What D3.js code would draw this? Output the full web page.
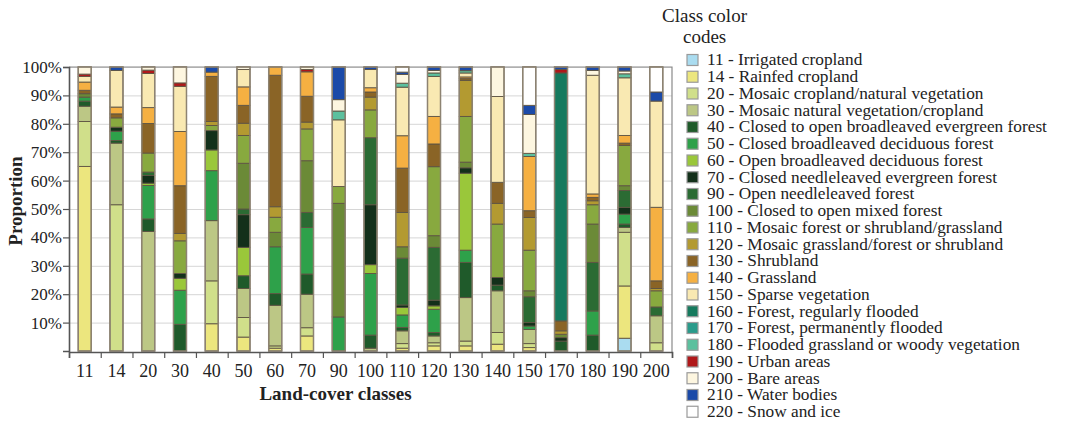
<!DOCTYPE html>
<html>
<head>
<meta charset="utf-8">
<script src="https://cdn.jsdelivr.net/npm/d3@7"></script>
<style>
  body { margin: 0; background: #fff; }
</style>
</head>
<body>
<svg id="chart" width="1070" height="422"></svg>
<script>
"use strict";

// Bars, left to right (labels as printed under the axis).
const barLabels = ["11", "14", "20", "30", "40", "50", "60", "70", "90", "100",
                   "110", "120", "130", "140", "150", "170", "180", "190", "200"];

// Legend classes, bottom-to-top stacking order.
const classCodes = [11, 14, 20, 30, 40, 50, 60, 70, 90, 100, 110, 120, 130, 140,
                    150, 160, 170, 180, 190, 200, 210, 220];
const classNames = [
    "Irrigated cropland", "Rainfed cropland", "Mosaic cropland/natural vegetation",
    "Mosaic natural vegetation/cropland", "Closed to open broadleaved evergreen forest",
    "Closed broadleaved deciduous forest", "Open broadleaved deciduous forest",
    "Closed needleleaved evergreen forest", "Open needleleaved forest",
    "Closed to open mixed forest", "Mosaic forest or shrubland/grassland",
    "Mosaic grassland/forest or shrubland", "Shrubland", "Grassland",
    "Sparse vegetation", "Forest, regularly flooded", "Forest, permanently flooded",
    "Flooded grassland or woody vegetation", "Urban areas", "Bare areas",
    "Water bodies", "Snow and ice"
];
const classColors = [
    "#aadcf0", "#ece67e", "#d0df8a", "#bcc785", "#1f5a2a", "#2ea14a", "#9ac73a",
    "#13301a", "#2b6b33", "#6b8a37", "#88a93f", "#b39a31", "#8a6426", "#f5b042",
    "#f9e9b2", "#167a5e", "#2a9b8b", "#5cc09e", "#b0181a", "#fdf6e0", "#1b4aa8",
    "#ffffff"
];

// Proportion (%) of each class per bar; columns follow classCodes.
//            11   14    20    30    40    50    60    70    90   100   110   120   130   140   150   160 170  180  190  200   210   220
const shares = [
    [0,   65.0, 15.8,  5.4,  1.8,  1.4,  0,    0,    0,    1.2,  0,    0,    1.2,  2.9,  2.0,  0,   0, 0,   0.8, 2.5,  0,    0],
    [0,   0,    51.5, 21.7,  0.9,  3.3,  0,    1.4,  0,    0,    3.3,  0,    1.4,  2.4, 12.9,  0,   0, 0,   0,   0,    1.2,  0],
    [0,   0,    0,    42.1,  4.4, 11.8,  0.8,  2.7,  1.2,  0,    6.7,  0,   10.4,  5.6, 12.0,  0,   0, 0,   1.2, 1.1,  0,    0],
    [0,   0,    0,    0,     9.4, 12.0,  4.2,  1.7,  0,    0,   11.5,  2.6, 16.8, 19.1, 15.9,  0,   0, 0,   1.2, 5.6,  0,    0],
    [0,   9.6, 15.1, 21.2,  0,   17.6,  7.3,  6.8,  0,    0,    1.8,  1.4, 15.9,  1.5,  0,    0,   0, 0,   0,   0,    1.8,  0],
    [0,   4.9,  6.9, 10.2,  4.5,  0,   10.0, 11.5,  2.0, 16.1,  9.8,  4.3,  6.3,  6.5,  6.1,  0,   0, 0,   0,   0.9,  0,    0],
    [0,   1.0,  0.8, 14.3,  4.1, 16.5,  0,    0,    0,    5.1,  5.3,  3.7, 46.3,  2.9,  0,    0,   0, 0,   0,   0,    0,    0],
    [0,   5.3,  2.9, 11.8,  7.1, 16.4,  0,    0,    5.3, 18.2, 11.2,  2.4,  9.1,  8.6,  0,    0,   0, 0,   0.8, 0.9,  0,    0],
    [0,   0,    0,    0,     0,   12.0,  0,    0,    0,   40.0,  5.9,  0,    0,    0,   23.5,  0,   0, 3.1, 0,   4.0, 11.5,  0],
    [0,   0,    0,    1.0,  4.6, 21.7,  3.1, 21.1, 23.6,  0,    9.8,  4.5,  1.8,  1.5,  6.4,  0,   0, 0,   0,   0,    0.9,  0],
    [0,   1.0,  1.6,  4.5,  1.2,  4.4,  2.6,  0.9, 16.5,  4.0,  0,   12.1, 15.6, 11.4, 17.1,  0,   0, 1.4, 0,   3.1,  0.8,  1.8],
    [0,   1.8,  1.1,  2.4,  1.2,  8.2,  1.2,  2.0, 18.6,  4.1, 24.3,  0,    8.0,  9.7, 14.1,  0,   0, 1.2, 0,   0.9,  1.2,  0],
    [0,   1.8,  1.7, 15.3, 12.4,  4.3, 27.1,  1.9,  0,    2.0, 16.1, 12.7,  0.6,  0.6,  1.4,  0,   0, 0.8, 0,   0,    1.3,  0],
    [0,   2.4,  4.1, 14.7,  2.0,  0,    0,    2.7,  0,    0,   18.8,  7.3,  7.4,  0,   30.2,  0,   0, 0,   0,  10.4,  0,    0],
    [0,   1.2,  1.4,  5.0,  0,    1.2,  0,    1.2,  9.1,  2.1, 14.3, 11.5,  2.4, 19.1,  0,    0,   0, 1.1, 0,  13.7,  3.2, 13.5],
    [0,   0,    0,    0,     3.5,  0,    0,    1.2,  0,    1.2,  0,    1.2,  3.5,  0,    0,   87.3, 0, 0,   1.2, 0,    0.9,  0],
    [0,   0,    0,    0,     5.6,  8.5,  0,    0,   17.1, 13.5,  6.8,  1.4,  1.2,  1.2, 41.8,  0,   0, 0,   0,   1.7,  1.2,  0],
    [4.5, 18.4, 18.9,  1.7,  1.2,  3.5,  0,    2.4,  5.9,  1.7, 14.2,  0,    0.8,  2.7, 20.3,  0,   0, 1.4, 0,   1.0,  1.4,  0],
    [0,   0,    2.9,  9.5,  0,    0,    0,    0,    3.1,  0,    5.7,  0.8,  2.7, 25.9, 37.4,  0,   0, 0,   0,   0,    3.2,  8.8]
];

const yTicks = [10, 20, 30, 40, 50, 60, 70, 80, 90, 100];

const FONT = "'Liberation Serif', 'DejaVu Serif', serif";
const svg = d3.select("#chart").attr("font-family", FONT);
const plot = {left: 69, right: 672, top: 67, bottom: 351};

let x = d3.scaleBand().domain(barLabels)
    .range([plot.left, plot.right])
    .paddingInner(0.59).paddingOuter(0.29);
let xEdges = d3.scaleLinear().domain([0, barLabels.length])
    .range([plot.left, plot.right]);
let y = d3.scaleLinear().domain([0, 100]).range([plot.bottom, plot.top]);

// Horizontal grid lines.
svg.append("g")
    .attr("transform", `translate(${plot.left},0)`)
    .call(d3.axisLeft(y).tickValues(yTicks).tickSize(-(plot.right - plot.left)).tickFormat(""))
    .call(g => g.select(".domain").remove())
    .call(g => g.selectAll("line").attr("stroke", "#d6d6d6").attr("stroke-width", 1));

// Plot frame (top and right sides).
svg.append("path")
    .attr("d", `M${plot.left},${plot.top}H${plot.right}V${plot.bottom + 1}`)
    .attr("fill", "none").attr("stroke", "#8a8a8a").attr("stroke-width", 1.2);

// Stacked bars.
let stack = d3.stack()
    .keys(d3.range(classCodes.length))
    .value((row, k) => row[k]);
let series = stack(shares);

let layers = svg.append("g").selectAll("g")
    .data(series)
    .enter().append("g")
    .attr("fill", (d, i) => classColors[i]);

layers.selectAll("rect")
    .data(d => d.map((v, i) => ({v: v, bar: barLabels[i]})).filter(s => s.v[1] - s.v[0] > 0))
    .enter().append("rect")
    .attr("x", s => x(s.bar))
    .attr("width", x.bandwidth())
    .attr("y", s => y(s.v[1]))
    .attr("height", s => y(s.v[0]) - y(s.v[1]))
    .attr("stroke", "#5e5443")
    .attr("stroke-width", 0.9);

// Outer outline of each bar.
svg.append("g").selectAll("rect")
    .data(barLabels)
    .enter().append("rect")
    .attr("x", d => x(d))
    .attr("width", x.bandwidth())
    .attr("y", y(100))
    .attr("height", y(0) - y(100))
    .attr("fill", "none")
    .attr("stroke", "#8d8372")
    .attr("stroke-width", 1.5);

// Y axis.
svg.append("g")
    .attr("transform", `translate(${plot.left},0)`)
    .call(d3.axisLeft(y).tickValues(yTicks).tickSize(6).tickPadding(1).tickFormat(d => d + "%"))
    .call(g => g.select(".domain").attr("stroke", "#555").attr("stroke-width", 1.6))
    .call(g => g.selectAll("line").attr("stroke", "#555").attr("stroke-width", 1.2))
    .call(g => g.selectAll("text")
        .attr("font-family", FONT)
        .attr("font-size", 17).attr("fill", "#222"));

// X axis: ticks between bars, labels under bars.
svg.append("g")
    .attr("transform", `translate(0,${plot.bottom + 1})`)
    .call(d3.axisBottom(xEdges).ticks(barLabels.length).tickSize(6).tickFormat(""))
    .call(g => g.select(".domain").attr("stroke", "#555").attr("stroke-width", 1.6))
    .call(g => g.selectAll("line").attr("stroke", "#555").attr("stroke-width", 1.2));

svg.append("g")
    .attr("transform", `translate(0,${plot.bottom + 1})`)
    .call(d3.axisBottom(x).tickSize(0).tickPadding(12))
    .call(g => g.select(".domain").remove())
    .call(g => g.selectAll("text")
        .attr("font-family", FONT)
        .attr("font-size", 18).attr("fill", "#222"));

// Axis titles.
svg.append("text")
    .attr("x", 335.5)
    .attr("y", 400)
    .attr("text-anchor", "middle")
    .attr("font-size", 19).attr("font-weight", "bold").attr("fill", "#222")
    .text("Land-cover classes");

svg.append("text")
    .attr("transform", "translate(22,201) rotate(-90)")
    .attr("text-anchor", "middle")
    .attr("font-size", 19).attr("font-weight", "bold").attr("fill", "#222")
    .text("Proportion");

// Legend.
let legend = svg.append("g").attr("font-family", FONT);
legend.append("text").attr("x", 662).attr("y", 22)
    .attr("font-size", 19).attr("fill", "#222").text("Class color");
legend.append("text").attr("x", 683).attr("y", 42.5)
    .attr("font-size", 19).attr("fill", "#222").text("codes");

let items = legend.selectAll(".legend_item")
    .data(classCodes)
    .enter().append("g")
    .attr("class", "legend_item")
    .attr("transform", (d, i) => `translate(687,${54.5 + i * 16.75})`);

items.append("rect")
    .attr("width", 11).attr("height", 11)
    .attr("fill", (d, i) => classColors[i])
    .attr("stroke", "#9a9a9a").attr("stroke-width", 1.2);

items.append("text")
    .attr("x", 20).attr("y", 10.8)
    .attr("font-size", 17.3).attr("fill", "#222")
    .text((d, i) => d + " - " + classNames[i]);
</script>
</body>
</html>
